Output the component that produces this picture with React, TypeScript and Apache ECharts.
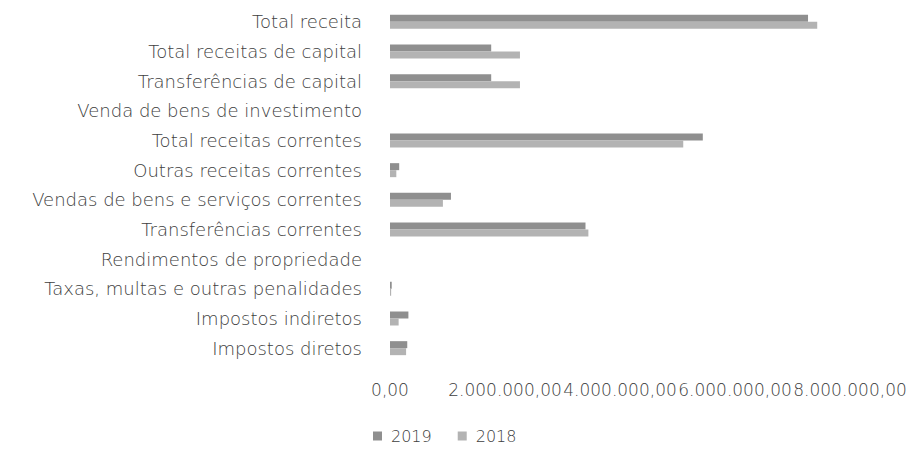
import React, { useEffect, useRef } from "react";
import * as echarts from "echarts";

const categories = [
  "Impostos diretos",
  "Impostos indiretos",
  "Taxas, multas e outras penalidades",
  "Rendimentos de propriedade",
  "Transferências correntes",
  "Vendas de bens e serviços correntes",
  "Outras receitas correntes",
  "Total receitas correntes",
  "Venda de bens de investimento",
  "Transferências de capital",
  "Total receitas de capital",
  "Total receita",
];

const values2019 = [300000, 320000, 30000, 0, 3400000, 1060000, 160000, 5440000, 0, 1760000, 1760000, 7270000];
const values2018 = [280000, 150000, 20000, 0, 3450000, 920000, 110000, 5100000, 0, 2260000, 2260000, 7430000];

const fmt = (v: number) => {
  const s = Math.round(v).toString().replace(/\B(?=(\d{3})+(?!\d))/g, ".");
  return s + ",00";
};

export default function App() {
  const ref = useRef<HTMLDivElement>(null);
  useEffect(() => {
    if (!ref.current) return;
    const chart = echarts.init(ref.current, undefined, { renderer: "svg" });
    const font = "'DejaVu Sans', sans-serif";
    const txt = { fontSize: 18, color: "#404040", fontFamily: font, fontWeight: 200 };
    chart.setOption({
      animation: false,
      textStyle: { fontFamily: font },
      grid: { left: 390, right: 73, top: 7, bottom: 92, containLabel: false },
      legend: {
        bottom: 6,
        left: 368,
        itemWidth: 9,
        itemHeight: 9,
        itemGap: 26,
        icon: "rect",
        textStyle: { ...txt, fontSize: 16, padding: [0, 0, 0, 4] },
        data: ["2019", "2018"],
      },
      xAxis: {
        type: "value",
        min: 0,
        max: 8000000,
        interval: 2000000,
        axisLine: { show: false },
        axisTick: { show: false },
        splitLine: { show: false },
        axisLabel: {
          ...txt,
          fontSize: 17,
          formatter: fmt,
          margin: 18,
          showMaxLabel: true,
          showMinLabel: true,
          hideOverlap: false,
        },
      },
      yAxis: {
        type: "category",
        data: categories,
        axisLine: { show: false },
        axisTick: { show: false },
        axisLabel: { ...txt, margin: 28, interval: 0 },
      },
      series: [
        {
          name: "2019",
          type: "bar",
          data: values2019,
          barWidth: 7,
          barGap: "0%",
          itemStyle: { color: "#8f8f8f" },
        },
        {
          name: "2018",
          type: "bar",
          data: values2018,
          barWidth: 7,
          barGap: "0%",
          itemStyle: { color: "#b3b3b3" },
        },
      ],
    });
    return () => chart.dispose();
  }, []);
  return (
    <div
      ref={ref}
      style={{ position: "fixed", left: 0, top: 0, width: 923, height: 455, background: "#fff" }}
    />
  );
}
